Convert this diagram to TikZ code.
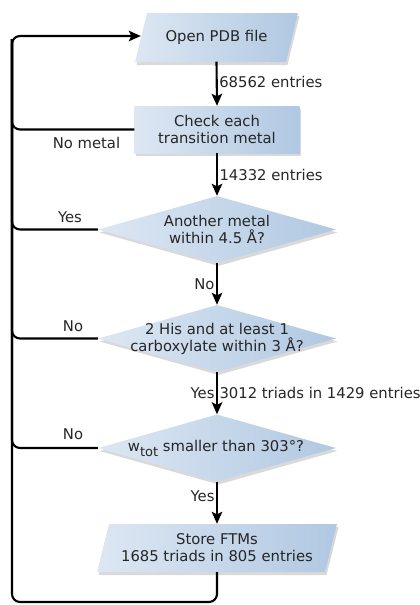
\documentclass[tikz,border=0pt]{standalone}
\usepackage{fontspec}
\setmainfont{DejaVu Sans}
\usetikzlibrary{shapes.geometric,shadows,arrows.meta}
\definecolor{boxL}{HTML}{DDE7F3}
\definecolor{boxR}{HTML}{B0C8E2}
\definecolor{txt}{HTML}{262626}
\begin{document}
\begin{tikzpicture}[x=1pt,y=-1pt,
  font=\fontsize{14.8}{17}\selectfont, text=txt,
  boxshade/.style={left color=boxL, right color=boxR, draw=none,
    drop shadow={opacity=0.3, shadow xshift=1.5pt, shadow yshift=-3pt}},
  iotext/.style={rectangle, align=center, inner sep=0pt, minimum width=#1, minimum height=48pt},
  proc/.style={boxshade, rectangle, inner sep=0pt, minimum width=165pt, minimum height=47pt},
  decision/.style={boxshade, diamond, inner sep=0pt, minimum width=238pt, minimum height=67pt},
  lbl/.style={align=center, inner sep=0pt},
  flow/.style={line width=2.1pt, -{Stealth[length=12pt,width=10.5pt,inset=2.5pt]}},
  back/.style={line width=2.1pt, rounded corners=8pt},
  note/.style={inner sep=1.5pt}]
\useasboundingbox (0,0) rectangle (420,605);
% shapes
\path[boxshade] (135,62) -- (147,13) -- (298,13) -- (286,62) -- cycle;
\node[iotext=151pt] (pdb) at (216.5,37.5) {Open PDB file};
\node[proc] (check) at (217,129.5) {};
\node[lbl] at (check) {Check each\\transition metal};
\node[decision] (d1) at (217,229.5) {};
\node[lbl] at (d1) {Another metal\\within 4.5 Å?};
\node[decision] (d2) at (217,338.5) {};
\node[lbl] at (d2) {2 His and at least 1\\carboxylate within 3 Å?};
\node[decision] (d3) at (217,448) {};
\node[lbl] at ([xshift=-1pt]d3) {w\raisebox{-5pt}{\fontsize{13}{12}\selectfont tot} smaller than 303°?};
\path[boxshade] (97,572) -- (109,524) -- (337,524) -- (325,572) -- cycle;
\node[iotext=228pt] (store) at (217,548) {Store FTMs\\1685 triads in 805 entries};
% loop coordinates
\coordinate (topleft) at (12,39);
\coordinate (botleft) at (12,602);
% main flow
\draw[flow] (pdb.south) -- node[note, anchor=west, pos=0.45] {68562 entries} (check.north);
\draw[flow] (check.south) -- node[note, anchor=west, pos=0.5] {14332 entries} (d1.north);
\draw[flow] (d1.south) -- node[note, anchor=east, pos=0.5] {No} (d2.north);
\draw[flow] (d2.south) -- node[note, anchor=east, pos=0.5] {Yes}
  node[note, anchor=west, pos=0.5] {3012 triads in 1429 entries} (d3.north);
\draw[flow] (d3.south) -- node[note, anchor=east, pos=0.35] {Yes} (store.north);
% feedback loop
\draw[back, flow] (store.south) |- (botleft) |- ([yshift=1.5pt]pdb.west);
\draw[back] (check.west) -| (topleft);
\draw[back] (d1.west) -| (topleft);
\draw[back] (d2.west) -| (topleft);
\draw[back] (d3.west) -| (topleft);
% branch labels
\node[note] (nm) at (86.5,143) {No metal};
\node[note] (y1) at (70,217) {Yes};
\node[note] (n2) at (73,326) {No};
\node[note] (n3) at (73,434) {No};
\end{tikzpicture}
\end{document}
